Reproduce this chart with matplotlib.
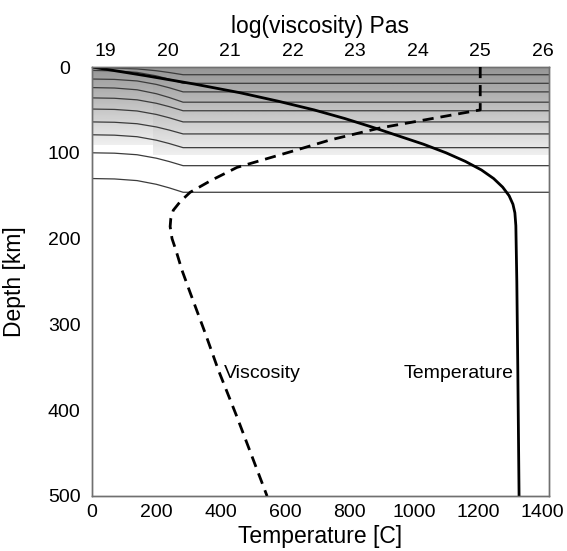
import numpy as np
import matplotlib
matplotlib.use("Agg")
import matplotlib.pyplot as plt

plt.rcParams['font.family'] = ['Liberation Sans', 'DejaVu Sans']

# Temperature profile (depth km -> temperature C)
temp_depth = [0, 10, 20, 30, 40, 50, 60, 70, 80, 90, 100, 110, 120, 130, 140, 150,
              160, 170, 185, 250, 350, 500]
temp_T = [0, 165, 320, 460, 580, 690, 785, 870, 950, 1030, 1100, 1160, 1210, 1248,
          1276, 1296, 1308, 1314, 1317, 1320, 1323, 1327]

# Viscosity profile (depth km -> log10 viscosity)
visc_depth = [0, 50, 71, 85, 97, 117, 132, 146, 157, 167, 177, 186, 200, 213, 237,
              263, 310, 353, 408, 500]
visc_log = [25.0, 25.0, 23.4, 22.6, 22.05, 21.11, 20.7, 20.36, 20.2, 20.09, 20.05,
            20.04, 20.07, 20.13, 20.23, 20.36, 20.6, 20.81, 21.11, 21.59]

# thin layer lines: depth at left edge and depth after the bend
layer_left = [1, 4, 14, 24, 36, 49, 64, 79, 100, 130]
layer_right = [9, 19, 29, 41, 51, 64, 78, 94, 115, 146]
bend_T = [0, 70, 140, 200, 240, 283]
bend_frac = [0, 0.03, 0.15, 0.42, 0.68, 1.0]

temp_ticks = [0, 200, 400, 600, 800, 1000, 1200, 1400]
visc_ticks = [19, 20, 21, 22, 23, 24, 25, 26]
depth_ticks = [0, 100, 200, 300, 400, 500]

fig = plt.figure(figsize=(5.67, 5.51), dpi=100)
ax = fig.add_axes([92 / 567, 1 - 496 / 551, 457 / 567, 429 / 551])

xmax = 1420
# gray shading of the upper layer
grad = np.linspace(0.58, 0.94, 100).reshape(-1, 1)
ax.imshow(grad, cmap='gray', vmin=0, vmax=1, aspect='auto',
          extent=[0, 190, 91, 0], zorder=0)
ax.imshow(grad, cmap='gray', vmin=0, vmax=1, aspect='auto',
          extent=[190, xmax, 103, 0], zorder=0)

for dl, dr in zip(layer_left, layer_right):
    xs = bend_T + [xmax]
    ys = [dl + f * (dr - dl) for f in bend_frac] + [dr]
    ax.plot(xs, ys, color='#3c3c3c', lw=0.9, zorder=1)

ax.plot(temp_T, temp_depth, color='black', lw=2.0, zorder=3)

ax.set_xlim(0, xmax)
ax.set_ylim(500, 0)
ax.set_xticks(temp_ticks)
ax.set_yticks(depth_ticks)
ax.tick_params(length=0, labelsize=14)
ax.tick_params(axis='x', pad=6)
ax.tick_params(axis='y', pad=20)
for lab in ax.get_yticklabels():
    lab.set_horizontalalignment('center')
ax.set_xlabel('Temperature [C]', fontsize=16.5, labelpad=3)
ax.set_ylabel('Depth [km]', fontsize=16.5)
ax.yaxis.set_label_coords(-0.145, 0.5)

ax2 = ax.twiny()
ax2.plot(visc_log, visc_depth, color='black', lw=2.0, ls=(0, (4, 2.5)), zorder=3)
ax2.set_xlim(18.79, 26.1)
ax2.set_ylim(500, 0)
ax2.set_xticks(visc_ticks)
ax2.tick_params(length=0, labelsize=14, pad=5)
ax2.set_xlabel('log(viscosity) Pas', fontsize=16.5, labelpad=7)

for a in (ax, ax2):
    for s in a.spines.values():
        s.set_color('#707070')
        s.set_linewidth(1.0)

ax.text(410, 357, 'Viscosity', fontsize=14, ha='left', va='center')
ax.text(1310, 357, 'Temperature', fontsize=14, ha='right', va='center')

fig.savefig('out.png', dpi=100)
